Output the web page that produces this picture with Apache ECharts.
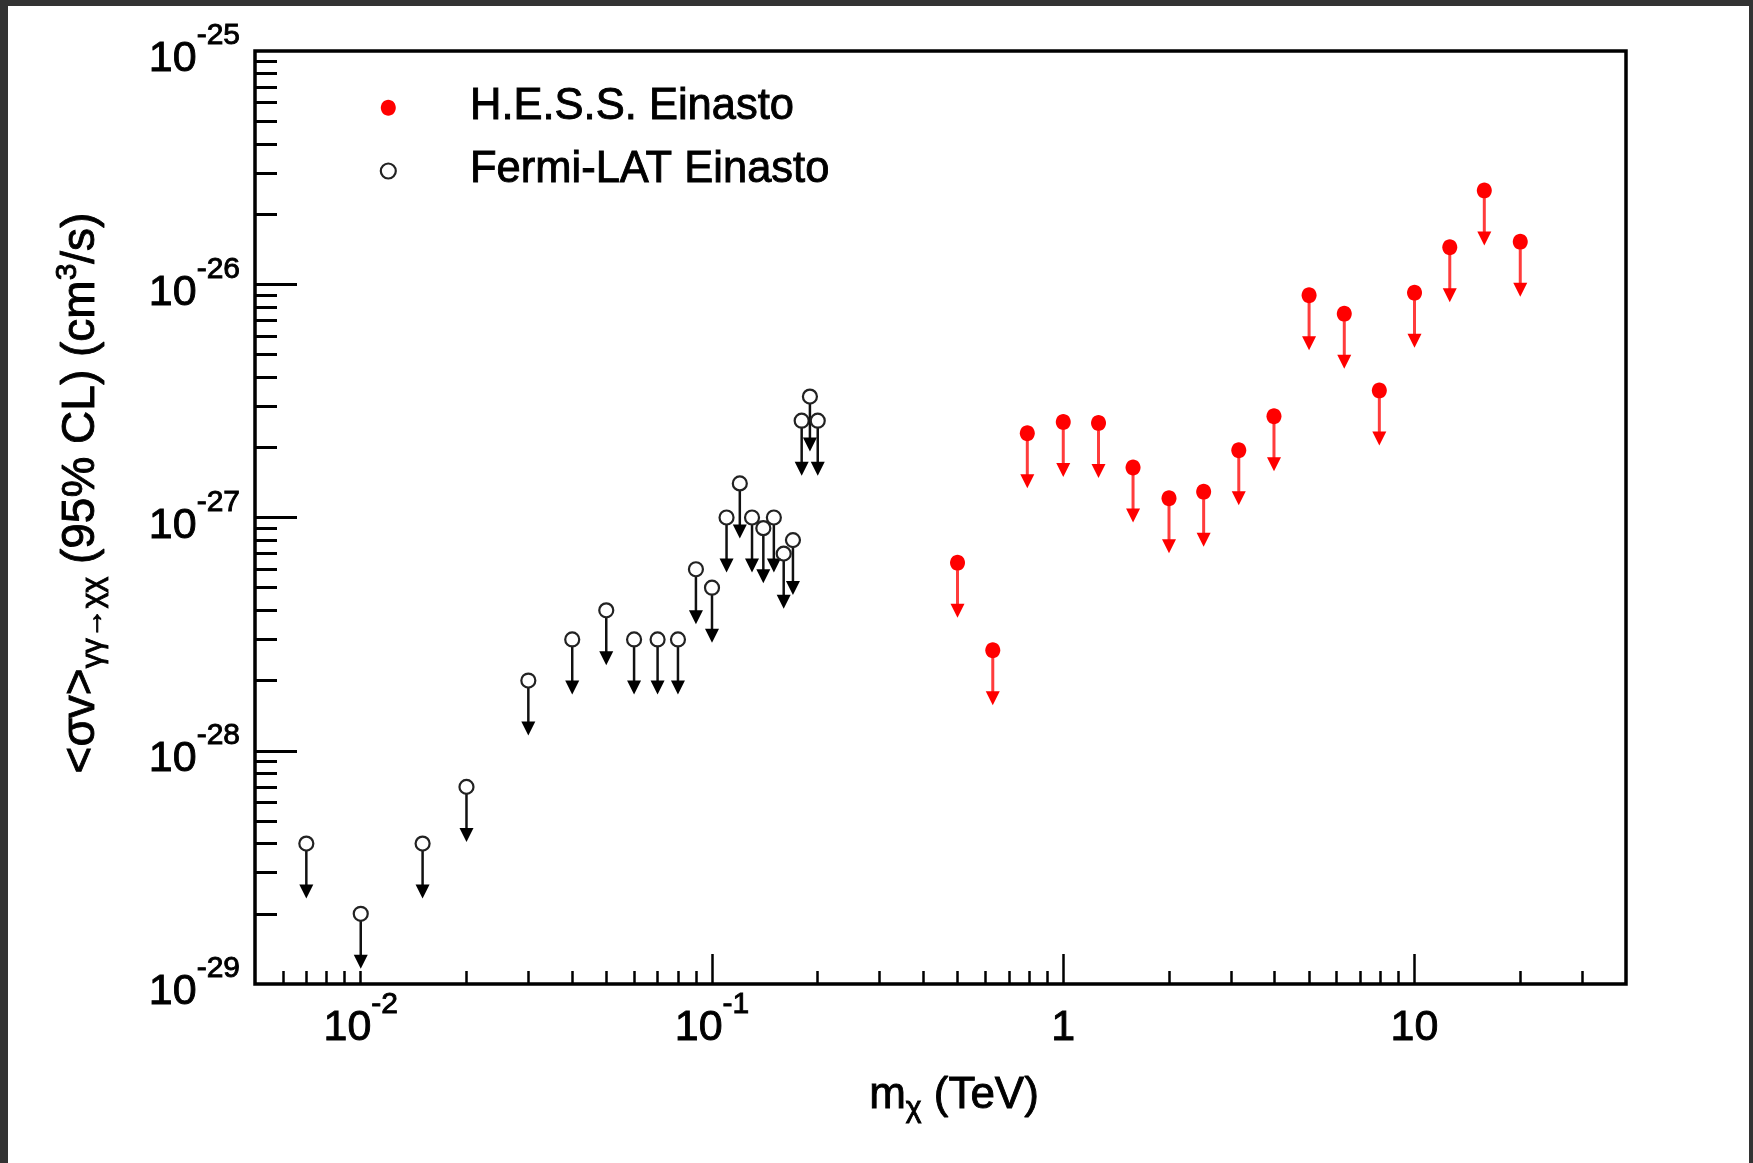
<!DOCTYPE html>
<html>
<head>
<meta charset="utf-8">
<script src="https://cdn.jsdelivr.net/npm/echarts@6/dist/echarts.min.js"></script>
<style>
html,body{margin:0;padding:0;background:#333;width:1753px;height:1163px;overflow:hidden;}
#chart{position:absolute;left:8px;top:6px;width:1741px;height:1157px;background:#fff;}
</style>
</head>
<body>
<div id="chart"></div>
<script>
// ---------- data ----------
const fermiMass  = [0.007, 0.01, 0.015, 0.02, 0.03, 0.04, 0.05, 0.06, 0.07, 0.08, 0.09, 0.1, 0.11, 0.12, 0.13, 0.14, 0.15, 0.16, 0.17, 0.18, 0.19, 0.2];
const fermiLimit = [4e-29, 2e-29, 4e-29, 7e-29, 2e-28, 3e-28, 4e-28, 3e-28, 3e-28, 3e-28, 6e-28, 5e-28, 1e-27, 1.4e-27, 1e-27, 9e-28, 1e-27, 7e-28, 8e-28, 2.6e-27, 3.3e-27, 2.6e-27];
const hessMass   = [0.5, 0.63, 0.79, 1.0, 1.26, 1.58, 2.0, 2.51, 3.16, 3.98, 5.01, 6.31, 7.94, 10.0, 12.6, 15.8, 20.0];
const hessLimit  = [6.4e-28, 2.7e-28, 2.3e-27, 2.57e-27, 2.54e-27, 1.64e-27, 1.21e-27, 1.29e-27, 1.94e-27, 2.72e-27, 8.96e-27, 7.47e-27, 3.5e-27, 9.2e-27, 1.44e-26, 2.52e-26, 1.52e-26];

// ---------- axes / ticks ----------
const xRange = [0.005, 40];
const yRange = [1e-29, 1e-25];
const xLabelTicks = [0.01, 0.1, 1, 10];
const xLongTicks  = [0.1, 1, 10];
const xShortTicks = [0.006, 0.007, 0.008, 0.009, 0.01, 0.02, 0.03, 0.04, 0.05, 0.06, 0.07, 0.08, 0.09,
                     0.2, 0.3, 0.4, 0.5, 0.6, 0.7, 0.8, 0.9, 2, 3, 4, 5, 6, 7, 8, 9, 20, 30];
const yLabelTicks = [1e-29, 1e-28, 1e-27, 1e-26, 1e-25];
const yLongTicks  = [1e-28, 1e-27, 1e-26];
const yMinorMult  = [2, 3, 4, 5, 6, 7, 8, 9];
const yMinorDecades = [1e-29, 1e-28, 1e-27, 1e-26];
const yShortTicks = [];
yMinorDecades.forEach(d => yMinorMult.forEach(m => yShortTicks.push(m * d)));

const legendNames = ['H.E.S.S. Einasto', 'Fermi-LAT Einasto'];

const FONT = '"Liberation Sans", Arial, Helvetica, sans-serif';
const L = Math.log10;
const TB = { textBorderColor: '#000', textBorderWidth: 0.9 };      // axis-label (component) naming
const GS = { stroke: '#000', lineWidth: 0.9, fill: '#000' };         // graphic (zrender) naming

const richTick = {
  b: Object.assign({ fontSize: 43, lineHeight: 60, verticalAlign: 'bottom', fontFamily: FONT, color: '#000' }, TB),
  s: Object.assign({ fontSize: 30, lineHeight: 30, verticalAlign: 'top', fontFamily: FONT, color: '#000' }, TB)
};
function fmtPow(v) {
  const e = Math.round(v);
  if (e < 0) return '{b|10}{s|' + e + '}';
  return '{b|' + Math.round(Math.pow(10, e)) + '}';
}

function makeRenderer(kind) {
  return function (params, api) {
    const p = api.coord([api.value(0), api.value(1)]);
    const cx = p[0], cy = p[1];
    const len = 55, headH = 14, headW = 14;
    const isHess = kind === 'hess';
    const r = isHess ? 7.5 : 7;
    const headCol = isHess ? '#ff0000' : '#000';
    const shaftCol = isHess ? '#ff3c3c' : '#111';
    return {
      type: 'group',
      children: [
        { type: 'line', shape: { x1: cx, y1: cy + r, x2: cx, y2: cy + len - headH + 1 },
          style: { stroke: shaftCol, lineWidth: isHess ? 3 : 2.5 } },
        { type: 'polygon', shape: { points: [[cx - headW / 2, cy + len - headH], [cx + headW / 2, cy + len - headH], [cx, cy + len]] },
          style: { fill: headCol } },
        isHess
          ? { type: 'ellipse', shape: { cx: cx, cy: cy, rx: 7.5, ry: 8 }, style: { fill: '#ff0000' } }
          : { type: 'circle', shape: { cx: cx, cy: cy, r: 7 }, style: { fill: 'none', stroke: '#222', lineWidth: 2.2 } }
      ]
    };
  };
}

const chart = echarts.init(document.getElementById('chart'), null, { renderer: 'canvas' });

const noLine = { show: false, onZero: false };
const option = {
  animation: false,
  backgroundColor: '#fff',
  grid: { left: 247, top: 45, right: 123, bottom: 179, containLabel: false, outerBoundsMode: 'none',
          show: true, borderColor: '#000', borderWidth: 3.5, backgroundColor: 'transparent' },
  xAxis: [
    { type: 'log', min: xRange[0], max: xRange[1], position: 'bottom', logBase: 10, show: false,
      axisLine: noLine, axisTick: { show: false }, axisLabel: { show: false }, splitLine: { show: false } },
    { type: 'value', min: L(xRange[0]), max: L(xRange[1]), position: 'bottom',
      axisLine: noLine, splitLine: { show: false },
      axisTick: { show: true, inside: true, length: 30, customValues: xLongTicks.map(L), lineStyle: { color: '#000', width: 2.5 } },
      axisLabel: { show: true, customValues: xLabelTicks.map(L), margin: 6, formatter: fmtPow, rich: richTick, color: '#000' } },
    { type: 'value', min: L(xRange[0]), max: L(xRange[1]), position: 'bottom',
      axisLine: noLine, splitLine: { show: false },
      axisTick: { show: true, inside: true, length: 13, customValues: xShortTicks.map(L), lineStyle: { color: '#000', width: 2.5 } },
      axisLabel: { show: false } }
  ],
  yAxis: [
    { type: 'log', min: yRange[0], max: yRange[1], position: 'left', logBase: 10, show: false,
      axisLine: noLine, axisTick: { show: false }, axisLabel: { show: false }, splitLine: { show: false } },
    { type: 'value', min: L(yRange[0]), max: L(yRange[1]), position: 'left',
      axisLine: noLine, splitLine: { show: false },
      axisTick: { show: true, inside: true, length: 42, customValues: yLongTicks.map(L), lineStyle: { color: '#000', width: 3 } },
      axisLabel: { show: true, customValues: yLabelTicks.map(L), margin: 15, formatter: fmtPow, rich: richTick, color: '#000' } },
    { type: 'value', min: L(yRange[0]), max: L(yRange[1]), position: 'left',
      axisLine: noLine, splitLine: { show: false },
      axisTick: { show: true, inside: true, length: 22, customValues: yShortTicks.map(L), lineStyle: { color: '#000', width: 3 } },
      axisLabel: { show: false } }
  ],
  series: [
    { name: legendNames[1], type: 'custom', xAxisIndex: 0, yAxisIndex: 0, renderItem: makeRenderer('fermi'),
      data: fermiMass.map((m, i) => [m, fermiLimit[i]]), z: 3 },
    { name: legendNames[0], type: 'custom', xAxisIndex: 0, yAxisIndex: 0, renderItem: makeRenderer('hess'),
      data: hessMass.map((m, i) => [m, hessLimit[i]]), z: 4 }
  ],
  graphic: [
    // legend
    { type: 'ellipse', shape: { cx: 380.3, cy: 101.7, rx: 7.5, ry: 8 }, style: { fill: '#ff0000' } },
    { type: 'text', x: 462, y: 101, style: Object.assign({ text: legendNames[0], font: '43.5px ' + FONT, align: 'left', verticalAlign: 'middle' }, GS) },
    { type: 'circle', shape: { cx: 380.3, cy: 165, r: 7.5 }, style: { fill: 'none', stroke: '#222', lineWidth: 2.2 } },
    { type: 'text', x: 462, y: 164, style: Object.assign({ text: legendNames[1], font: '43.5px ' + FONT, align: 'left', verticalAlign: 'middle' }, GS) },
    // x-axis title
    { type: 'text', x: 946, y: 1068,
      style: { text: '{b|m}{sub|χ}{b| (TeV)}', align: 'center', verticalAlign: 'top',
        rich: {
          b: Object.assign({ fontSize: 44, lineHeight: 50, verticalAlign: 'top', fontFamily: FONT }, GS),
          sub: Object.assign({ fontSize: 30, lineHeight: 26, verticalAlign: 'bottom', fontFamily: FONT }, GS)
        } } },
    // y-axis title
    { type: 'text', x: 73, y: 487, rotation: Math.PI / 2,
      style: { text: '{b|<σv>}{sub|γγ→χχ}{b| (95% CL) (cm}{sup|3}{b|/s)}', align: 'center', verticalAlign: 'middle',
        rich: {
          b: Object.assign({ fontSize: 46, lineHeight: 56, verticalAlign: 'middle', fontFamily: FONT }, GS),
          sub: Object.assign({ fontSize: 30, lineHeight: 30, verticalAlign: 'bottom', fontFamily: FONT }, GS),
          sup: Object.assign({ fontSize: 30, lineHeight: 30, verticalAlign: 'top', fontFamily: FONT }, GS)
        } } }
  ]
};
chart.setOption(option);
</script>
</body>
</html>
